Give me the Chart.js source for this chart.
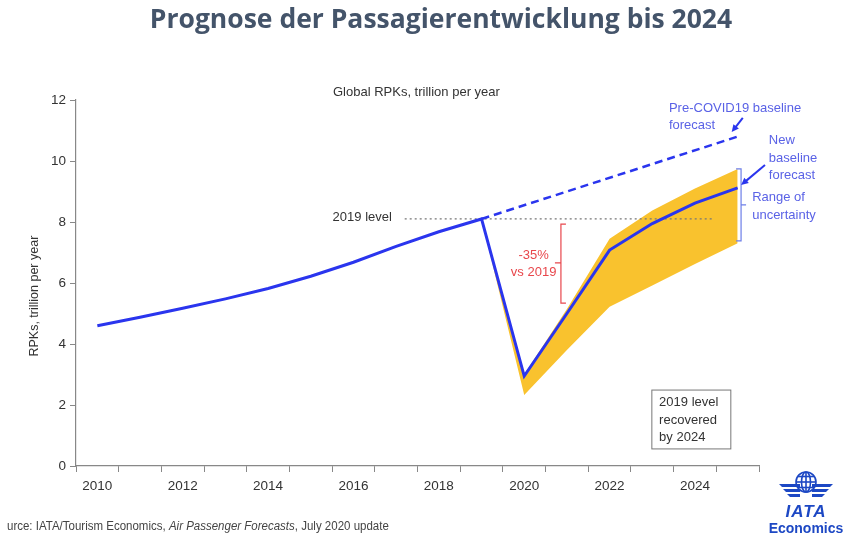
<!DOCTYPE html>
<html>
<head>
<meta charset="utf-8">
<script src="https://cdn.jsdelivr.net/npm/chart.js@4/dist/chart.umd.min.js"></script>
<style>
  body { margin: 0; background: #fff; }
  #wrap { position: relative; width: 848px; height: 535px; overflow: hidden; }
  #title { position: absolute; left: 34px; top: 0px; width: 814px; text-align: center;
           font: 700 26.5px "Open Sans", sans-serif; color: #44546A; white-space: nowrap; }
  #source { position: absolute; left: 7px; top: 519px; font: 12.5px "Liberation Sans", sans-serif; color: #444; white-space: nowrap;
            transform: scaleX(0.92); transform-origin: left top; }
  #logo { position: absolute; left: 766px; top: 466px; width: 80px; text-align: center; color: #1d48c4; }
  #logo .iata { font: italic 900 17px "Liberation Sans", sans-serif; line-height: 16px; margin-top: 0px; letter-spacing: 1px; }
  #logo .eco { font: 700 14px "Liberation Sans", sans-serif; line-height: 16px; }
</style>
</head>
<body>
<div id="wrap">
  <canvas id="chart" width="848" height="535"></canvas>
  <div id="title">Prognose der Passagierentwicklung bis 2024</div>
  <div id="source">urce: IATA/Tourism Economics, <i>Air Passenger Forecasts</i>, July 2020 update</div>
  <div id="logo">
    <svg width="80" height="34" viewBox="0 0 80 34">
      <g fill="#1d48c4">
        <path d="M13 18 L34 18 L34 21 L16 21 Z"/>
        <path d="M17 23 L34 23 L34 26 L20 26 Z"/>
        <path d="M21 28 L34 28 L34 31 L24 31 Z"/>
        <path d="M67 18 L46 18 L46 21 L64 21 Z"/>
        <path d="M63 23 L46 23 L46 26 L60 26 Z"/>
        <path d="M59 28 L46 28 L46 31 L56 31 Z"/>
      </g>
      <g fill="none" stroke="#1d48c4" stroke-width="1.6">
        <circle cx="40" cy="16" r="10"/>
        <ellipse cx="40" cy="16" rx="4.5" ry="10"/>
        <line x1="40" y1="6" x2="40" y2="26"/>
        <line x1="30" y1="16" x2="50" y2="16"/>
        <line x1="32" y1="10.5" x2="48" y2="10.5"/>
        <line x1="32" y1="21.5" x2="48" y2="21.5"/>
      </g>
    </svg>
    <div class="iata">IATA</div>
    <div class="eco">Economics</div>
  </div>
</div>
<script>
// Jahre (Kategorien) und Werte in Billionen RPK
const years = ['2010','2011','2012','2013','2014','2015','2016','2017','2018','2019','2020','2021','2022','2023','2024','2025'];
const rpk = [4.6, 4.88, 5.17, 5.48, 5.82, 6.22, 6.68, 7.2, 7.68, 8.1, 2.95, 5.0, 7.08, 7.95, 8.62, 9.12];
const preCovid = [null, null, null, null, null, null, null, null, null, 8.1, null, null, null, null, null, 10.8];
const bandHigh = [null, null, null, null, null, null, null, null, null, 8.1, 3.0, 5.15, 7.45, 8.38, 9.1, 9.74];
const bandLow = [null, null, null, null, null, null, null, null, null, 8.1, 2.33, 3.8, 5.22, 5.92, 6.62, 7.3];
const yTicks = [0, 2, 4, 6, 8, 10, 12];
const level2019 = 8.1;
const levelFrom = 2017.2;
const levelTo = 2024.42;

const BLUE = '#2a35ee';
const TXT_BLUE = '#5a62e6';
const RED = '#e8474c';

// Beschriftungen in Jahr/Wert-Koordinaten
const notes = [
    { t: 'Global RPKs, trillion per year', x: 2015.52, y: 12.26, c: '#333', a: 'left' },
    { t: '2019 level', x: 2016.9, y: 8.15, c: '#333', a: 'right' },
    { t: '-35%', x: 2020.22, y: 6.92, c: RED, a: 'center' },
    { t: 'vs 2019', x: 2020.22, y: 6.36, c: RED, a: 'center' },
    { t: 'Pre-COVID19 baseline', x: 2023.39, y: 11.74, c: TXT_BLUE, a: 'left' },
    { t: 'forecast', x: 2023.39, y: 11.18, c: TXT_BLUE, a: 'left' },
    { t: 'New', x: 2025.73, y: 10.66, c: TXT_BLUE, a: 'left' },
    { t: 'baseline', x: 2025.73, y: 10.1, c: TXT_BLUE, a: 'left' },
    { t: 'forecast', x: 2025.73, y: 9.54, c: TXT_BLUE, a: 'left' },
    { t: 'Range of', x: 2025.34, y: 8.79, c: TXT_BLUE, a: 'left' },
    { t: 'uncertainty', x: 2025.34, y: 8.23, c: TXT_BLUE, a: 'left' },
    { t: '2019 level', x: 2023.16, y: 2.07, c: '#333', a: 'left' },
    { t: 'recovered', x: 2023.16, y: 1.51, c: '#333', a: 'left' },
    { t: 'by 2024', x: 2023.16, y: 0.95, c: '#333', a: 'left' }
];
const arrows = [
    { x1: 2025.12, y1: 11.41, x2: 2024.86, y2: 10.95 },
    { x1: 2025.64, y1: 9.87, x2: 2025.08, y2: 9.21 }
];
const box = { x1: 2022.99, y1: 2.49, x2: 2024.84, y2: 0.56 };
const redBracket = { x: 2020.86, top: 7.93, bottom: 5.34, mid: 6.66 };
const blueBracket = { x: 2025.08, top: 9.74, bottom: 7.38, mid: 8.56 };

const notesPlugin = {
    id: 'notes',
    afterDatasetsDraw(chart) {
        const ctx = chart.ctx;
        const xs = chart.scales.xYear;
        const ys = chart.scales.y;
        const px = v => xs.getPixelForValue(v);
        const py = v => ys.getPixelForValue(v);
        ctx.save();

        // Achsentitel links
        ctx.save();
        ctx.translate(35, py(5.57));
        ctx.rotate(-Math.PI / 2);
        ctx.font = '12.5px "Liberation Sans", sans-serif';
        ctx.fillStyle = '#333';
        ctx.textAlign = 'center';
        ctx.textBaseline = 'middle';
        ctx.fillText('RPKs, trillion per year', 0, 0);
        ctx.restore();

        // roter Bügel
        ctx.strokeStyle = RED;
        ctx.lineWidth = 1.2;
        let bx = px(redBracket.x);
        ctx.beginPath();
        ctx.moveTo(bx + 5, py(redBracket.top));
        ctx.lineTo(bx, py(redBracket.top));
        ctx.lineTo(bx, py(redBracket.bottom));
        ctx.lineTo(bx + 5, py(redBracket.bottom));
        ctx.moveTo(bx, py(redBracket.mid));
        ctx.lineTo(bx - 6, py(redBracket.mid));
        ctx.stroke();

        // blauer Bügel
        ctx.strokeStyle = '#6d7fe8';
        bx = px(blueBracket.x);
        ctx.beginPath();
        ctx.moveTo(bx - 5, py(blueBracket.top));
        ctx.lineTo(bx, py(blueBracket.top));
        ctx.lineTo(bx, py(blueBracket.bottom));
        ctx.lineTo(bx - 5, py(blueBracket.bottom));
        ctx.moveTo(bx, py(blueBracket.mid));
        ctx.lineTo(bx + 5, py(blueBracket.mid));
        ctx.stroke();

        // Pfeile
        ctx.strokeStyle = BLUE;
        ctx.fillStyle = BLUE;
        ctx.lineWidth = 2;
        arrows.forEach(a => {
            const x1 = px(a.x1), y1 = py(a.y1), x2 = px(a.x2), y2 = py(a.y2);
            const ang = Math.atan2(y2 - y1, x2 - x1);
            ctx.beginPath();
            ctx.moveTo(x1, y1);
            ctx.lineTo(x2 - 5 * Math.cos(ang), y2 - 5 * Math.sin(ang));
            ctx.stroke();
            ctx.beginPath();
            ctx.moveTo(x2, y2);
            ctx.lineTo(x2 - 8 * Math.cos(ang - 0.45), y2 - 8 * Math.sin(ang - 0.45));
            ctx.lineTo(x2 - 8 * Math.cos(ang + 0.45), y2 - 8 * Math.sin(ang + 0.45));
            ctx.closePath();
            ctx.fill();
        });

        // Kasten
        ctx.strokeStyle = '#777';
        ctx.lineWidth = 1;
        ctx.strokeRect(px(box.x1), py(box.y1), px(box.x2) - px(box.x1), py(box.y2) - py(box.y1));

        // Texte
        ctx.font = '13px "Liberation Sans", sans-serif';
        ctx.textBaseline = 'middle';
        notes.forEach(n => {
            ctx.fillStyle = n.c;
            ctx.textAlign = n.a;
            ctx.fillText(n.t, px(n.x), py(n.y));
        });
        ctx.restore();
    }
};

new Chart(document.getElementById('chart'), {
    type: 'line',
    data: {
        labels: years,
        datasets: [
            {
                label: 'New baseline forecast',
                data: rpk,
                borderColor: BLUE,
                borderWidth: 3,
                pointRadius: 0,
                tension: 0,
                order: 0
            },
            {
                label: 'Pre-COVID19 baseline forecast',
                data: preCovid,
                borderColor: BLUE,
                borderWidth: 2.5,
                borderDash: [8, 5],
                spanGaps: true,
                pointRadius: 0,
                order: 1
            },
            {
                label: 'upper',
                data: bandHigh,
                borderWidth: 0,
                borderColor: 'rgba(0,0,0,0)',
                backgroundColor: '#f9c22e',
                fill: '+1',
                pointRadius: 0,
                order: 3
            },
            {
                label: 'lower',
                data: bandLow,
                borderWidth: 0,
                borderColor: 'rgba(0,0,0,0)',
                pointRadius: 0,
                fill: false,
                order: 3
            },
            {
                label: '2019 level',
                xAxisID: 'xYear',
                data: [{ x: levelFrom, y: level2019 }, { x: levelTo, y: level2019 }],
                borderColor: '#777',
                borderWidth: 1.2,
                borderDash: [2, 3],
                pointRadius: 0,
                order: 2
            }
        ]
    },
    options: {
        responsive: false,
        devicePixelRatio: 1,
        animation: false,
        layout: { padding: { left: 28, top: 100, right: 89, bottom: 39 } },
        plugins: {
            legend: { display: false },
            tooltip: { enabled: false },
            title: { display: false }
        },
        scales: {
            x: {
                type: 'category',
                offset: true,
                grid: { offset: true, drawOnChartArea: false, tickLength: 6, color: '#888' },
                border: { color: '#888', width: 1.2 },
                ticks: {
                    autoSkip: false,
                    maxRotation: 0,
                    padding: 6,
                    color: '#333',
                    font: { family: 'Liberation Sans', size: 13.5 },
                    callback: function (val, i) { return i % 2 === 0 ? years[i] : ''; }
                },
                afterFit: s => { s.height = 30; }
            },
            xYear: {
                type: 'linear',
                axis: 'x',
                position: 'bottom',
                display: false,
                min: 2009.5,
                max: 2025.5
            },
            y: {
                min: 0,
                max: 12,
                afterBuildTicks: s => { s.ticks = yTicks.map(v => ({ value: v })); },
                grid: { drawOnChartArea: false, tickLength: 6, color: '#888' },
                border: { color: '#888', width: 1.2 },
                ticks: {
                    padding: 4,
                    color: '#333',
                    font: { family: 'Liberation Sans', size: 13.5 }
                },
                afterFit: s => { s.width = 48; }
            }
        }
    },
    plugins: [notesPlugin]
});
</script>
</body>
</html>
